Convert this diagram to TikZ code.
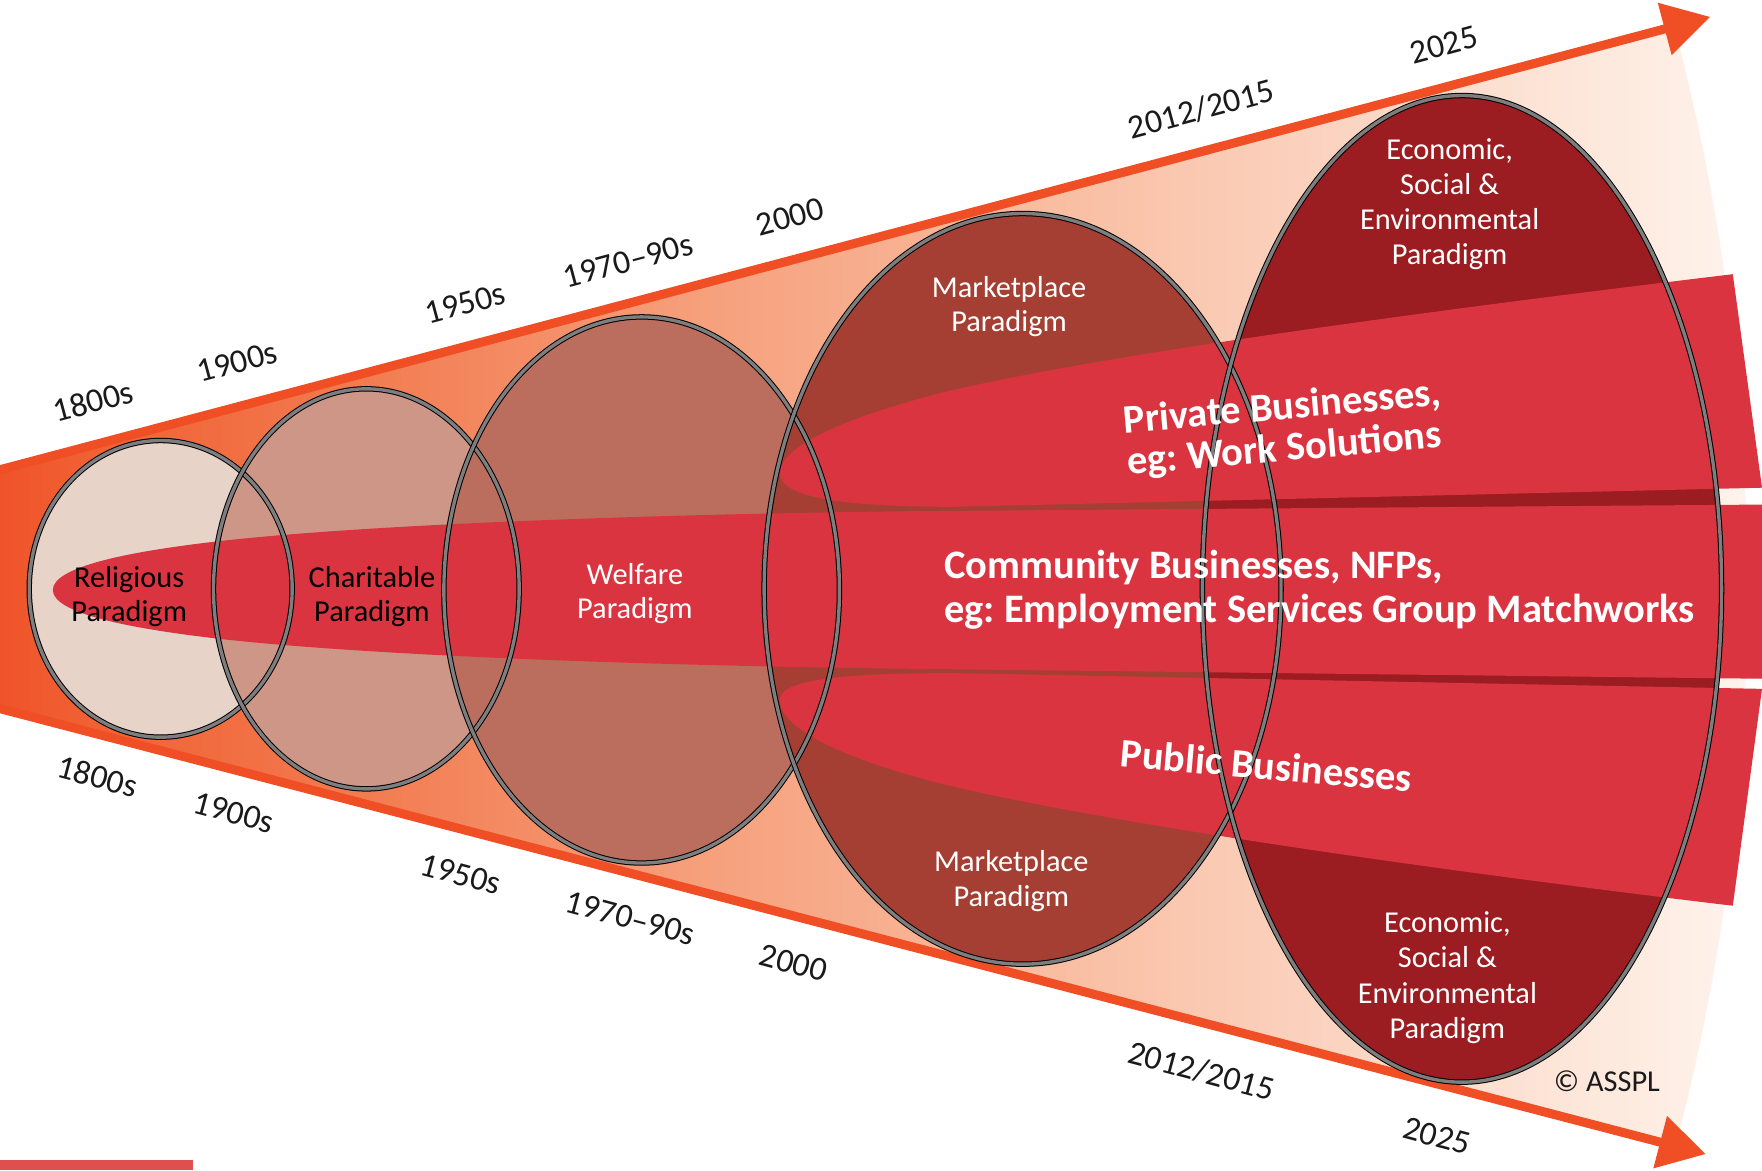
\documentclass[tikz,border=0pt]{standalone}
\usepackage{fontspec}
\setmainfont{Carlito}
\usetikzlibrary{arrows.meta}
\definecolor{orangeline}{HTML}{F04F26}
\definecolor{w0}{HTML}{F0522A}
\definecolor{w1}{HTML}{F06032}
\definecolor{w2}{HTML}{F27A4F}
\definecolor{w3}{HTML}{F6A07C}
\definecolor{w4}{HTML}{F9BEA2}
\definecolor{w5}{HTML}{FBD3C0}
\definecolor{w6}{HTML}{FDE8DC}
\definecolor{w7}{HTML}{FFF5EF}
\definecolor{creligious}{HTML}{E8D3C9}
\definecolor{ccharitable}{HTML}{CE9686}
\definecolor{cwelfare}{HTML}{BC6E5E}
\definecolor{cmarket}{HTML}{A53F33}
\definecolor{cecon}{HTML}{9C1D21}
\definecolor{cband}{HTML}{DA3441}
\definecolor{cbar}{HTML}{DE4F50}
\definecolor{ctext}{HTML}{1A1A1A}
\definecolor{cring}{HTML}{7E7E7E}
\pgfdeclarehorizontalshading{wedgeshade}{100bp}{color(0bp)=(w0); color(25bp)=(w0); color(27.5bp)=(w1); color(35bp)=(w2); color(45bp)=(w3); color(55bp)=(w4); color(62.5bp)=(w5); color(70bp)=(w6); color(75bp)=(w7); color(100bp)=(w7)}
\tikzset{
  yeartop/.style={text=ctext, font=\fontsize{15}{18}\selectfont, rotate=15, inner sep=0pt},
  yearbot/.style={text=ctext, font=\fontsize{15}{18}\selectfont, rotate=-15, inner sep=0pt},
  paralabel/.style={align=center, font=\fontsize{13.5}{15.2}\selectfont, inner sep=0pt},
  bandlabel/.style={text=white, font=\fontsize{18}{19.5}\selectfont\bfseries, inner sep=0pt},
  ringout/.style={draw=black, line width=2.4pt},
  ringin/.style={draw=cring, line width=1.5pt},
  bandfill/.style={fill=cband},
  axisline/.style={draw=orangeline, line width=4pt, -{Triangle[length=21pt,width=23pt]}}
}
\begin{document}
\frenchspacing
\begin{tikzpicture}[x=0.5pt,y=-0.5pt]
\useasboundingbox (0,0) rectangle (1568,1041.2);
% wedge
\shade[shading=wedgeshade] (-5,419.3) -- (1490,24) arc[start angle=-14.8, end angle=14.63, radius=1958] -- (-5,629.3) -- cycle;
\coordinate (tl) at (-5,419.3);
\coordinate (tr) at (1522,15);
\coordinate (bl) at (-5,629.3);
\coordinate (br) at (1518,1027);
\draw[axisline] (tl) -- (tr);
\draw[axisline] (bl) -- (br);
% ellipse fills
\fill[creligious] (143,524) ellipse [x radius=117, y radius=132];
\fill[ccharitable] (326,524) ellipse [x radius=136, y radius=178];
\fill[cwelfare] (571,525) ellipse [x radius=176, y radius=243];
\fill[cmarket] (910,524) ellipse [x radius=230, y radius=334];
\fill[cecon] (1301,524) ellipse [x radius=231, y radius=439];
% bands
\fill[bandfill] (1568,449) -- (800,455) .. controls (500,459) and (300,470) .. (200,481)
  .. controls (110,491) and (47,505) .. (47,525)
  .. controls (47,545) and (110,559) .. (200,569)
  .. controls (300,580) and (500,591) .. (800,595) -- (1568,604) -- cycle;
\fill[bandfill] (694,421) .. controls (694,400) and (740,375) .. (836,350)
  .. controls (950,322) and (1200,285) .. (1542,244) -- (1568,434) -- (850,451)
  .. controls (740,451) and (694,441) .. (694,421) -- cycle;
\fill[bandfill] (694,623) .. controls (694,606) and (740,599) .. (850,599) -- (1568,613)
  -- (1542,806) .. controls (1200,765) and (950,725) .. (836,697)
  .. controls (740,672) and (694,646) .. (694,623) -- cycle;
% ellipse outlines
\foreach \cx/\cy/\rx/\ry in {143/524/117/132, 326/524/136/178, 571/525/176/243, 910/524/230/334, 1301/524/231/439}{
  \draw[ringout] (\cx,\cy) ellipse [x radius=\rx, y radius=\ry];
  \draw[ringin] (\cx,\cy) ellipse [x radius=\rx, y radius=\ry];
}
% year labels
\node[yeartop] (t1800) at (83,357) {1800s};
\node[yeartop] (t1900) at (211,322) {1900s};
\node[yeartop] (t1950) at (414,270) {1950s};
\node[yeartop] (t1970) at (559,232) {1970–90s};
\node[yeartop] (t2000) at (703,193) {2000};
\node[yeartop] (t2012) at (1069,97) {2012/2015};
\node[yeartop] (t2025) at (1285,40) {2025};
\node[yearbot] (b1800) at (87,691) {1800s};
\node[yearbot] (b1900) at (208,723) {1900s};
\node[yearbot] (b1950) at (410,778) {1950s};
\node[yearbot] (b1970) at (561,817) {1970–90s};
\node[yearbot] (b2000) at (706,857) {2000};
\node[yearbot] (b2012) at (1069,953) {2012/2015};
\node[yearbot] (b2025) at (1279,1011) {2025};
% paradigm labels
\node[paralabel, text=black] (religious) at (115,531) {Religious\\Paradigm};
\node[paralabel, text=black] (charitable) at (331,531) {Charitable\\Paradigm};
\node[paralabel, text=white] (welfare) at (565,528) {Welfare\\Paradigm};
\node[paralabel, text=white] (markettop) at (898,273) {Marketplace\\Paradigm};
\node[paralabel, text=white] (marketbot) at (900,784) {Marketplace\\Paradigm};
\node[paralabel, text=white, font=\fontsize{13.5}{15.6}\selectfont] (econtop) at (1290,182) {Economic,\\Social \&\\Environmental\\Paradigm};
\node[paralabel, text=white, font=\fontsize{13.5}{15.6}\selectfont] (econbot) at (1288,870) {Economic,\\Social \&\\Environmental\\Paradigm};
% band labels
\node[bandlabel, align=left, rotate=5, font=\fontsize{18}{18.5}\selectfont\bfseries] (private) at (1143,382) {Private Businesses,\\eg: Work Solutions};
\node[bandlabel, align=left, anchor=west] (community) at (840,525) {Community Businesses, NFPs,\\eg: Employment Services Group Matchworks};
\node[bandlabel, rotate=-5] (public) at (1127,681) {Public Businesses};
\node[text=ctext, font=\fontsize{13.5}{15}\selectfont, inner sep=0pt] (copy) at (1430,962) {© ASSPL};
% bottom-left bar
\fill[cbar] (0,1032) rectangle (172,1041.2);
\end{tikzpicture}
\end{document}
